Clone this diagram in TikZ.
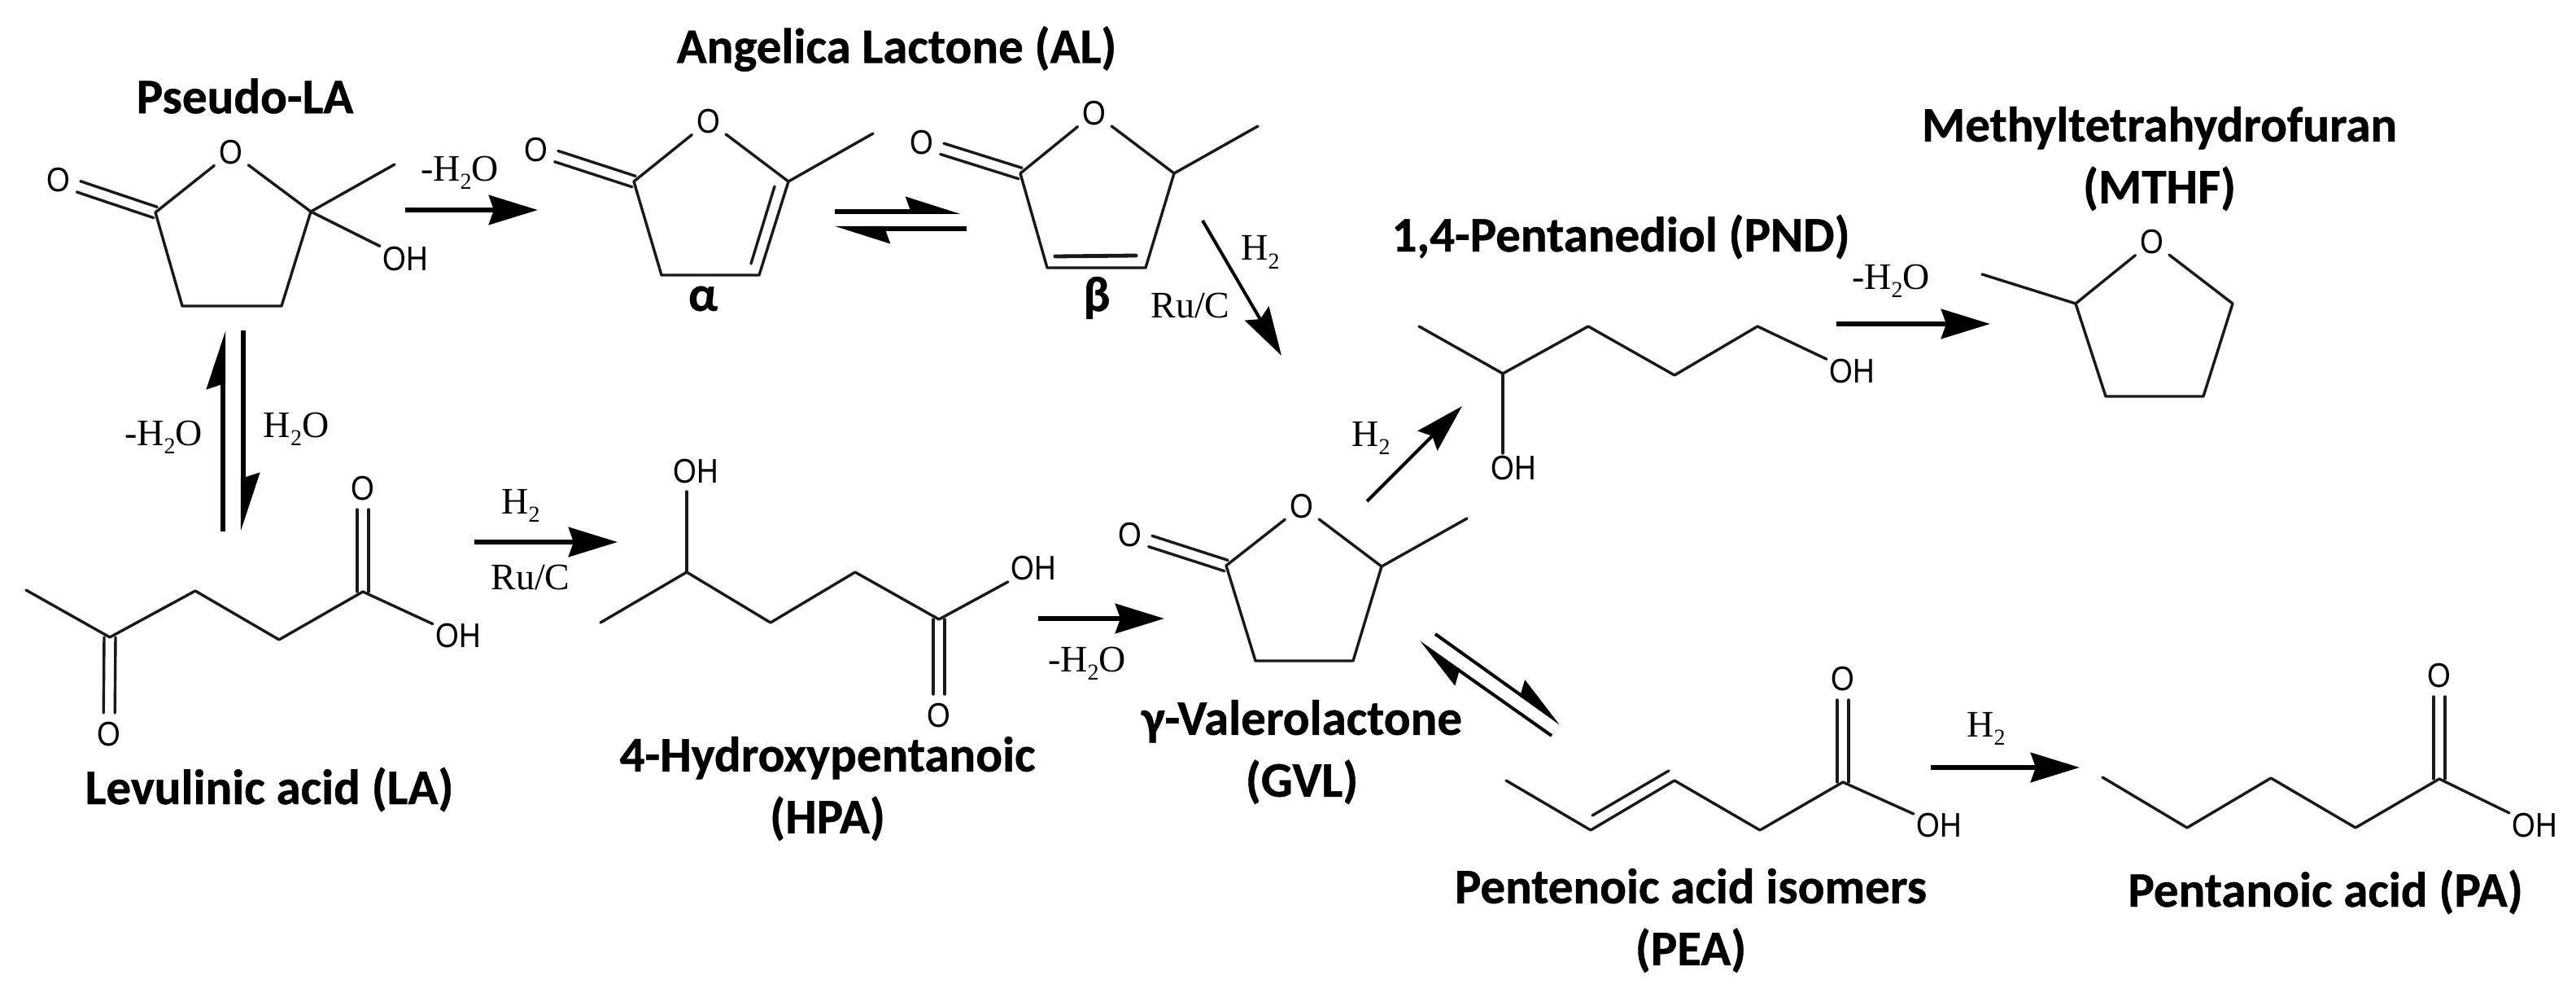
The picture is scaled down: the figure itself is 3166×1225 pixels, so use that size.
\documentclass[tikz,border=0pt]{standalone}
\usepackage{fontspec}
\setmainfont{Carlito}
\newfontfamily\namef[BoldFont={Carlito Bold},BoldFeatures={FakeBold=0.7}]{Carlito}
\newfontfamily\atomf[FakeStretch=0.88]{Liberation Sans}
\newfontfamily\regf{Liberation Serif}
\usetikzlibrary{arrows.meta,calc}
\newcommand{\subtwo}{\raisebox{-0.22em}{\fontsize{14}{14}\selectfont 2}}
\newcommand{\dbond}[2]{%
  \draw[bond] ($(#1)!3.5pt!90:(#2)$) -- ($($(#2)!13pt!(#1)$)!3.5pt!-90:(#1)$);
  \draw[bond] ($(#1)!3.5pt!-90:(#2)$) -- ($($(#2)!13pt!(#1)$)!3.5pt!90:(#1)$);}
\tikzset{
  bond/.style={line width=1.7pt,black!90,line cap=round,line join=round},
  lbl/.style={font=\namef\bfseries\fontsize{30.5}{38}\selectfont,align=center,inner sep=0pt,text=black},
  reag/.style={font=\regf\fontsize{23}{27}\selectfont,inner sep=0pt,text=black},
  atomO/.style={font=\atomf\fontsize{21}{25}\selectfont,circle,minimum size=26pt,inner sep=0pt},
  atomOH/.style={font=\atomf\fontsize{21}{25}\selectfont,rectangle,inner sep=1.5pt},
  rxn/.style={line width=3.4pt,-{Stealth[length=30pt,width=18pt,inset=3pt]}},
  rxnthin/.style={line width=2pt,-{Stealth[length=30pt,width=17pt,inset=4pt]}},
  harpV/.style={line width=3.2pt,-{Stealth[left,length=31pt,width=20pt,inset=3pt]}},
  harpH/.style={line width=3pt,-{Stealth[left,length=29pt,width=18pt,inset=3pt]}},
  harpD/.style={line width=2pt,-{Stealth[left,length=30pt,width=18pt,inset=3pt]}},
}
\begin{document}
\begin{tikzpicture}[x=0.5pt,y=-0.5pt]
\useasboundingbox[fill=white] (0,0) rectangle (3166,1225);
% ---- compound names
\node[lbl] (nPLA) at (301,118) {Pseudo-LA};
\node[lbl] (nAL) at (1102,60) {Angelica Lactone (AL)};
\node[lbl] (nA) at (864,367) {α};
\node[lbl] (nB) at (1348,366) {β};
\node[lbl] (nPND) at (1992,291) {1,4-Pentanediol (PND)};
\node[lbl] (nMTHF) at (2654,195) {Methyltetrahydrofuran\\(MTHF)};
\node[lbl] (nLA) at (331,970) {Levulinic acid (LA)};
\node[lbl] (nHPA) at (1017,969) {4-Hydroxypentanoic\\(HPA)};
\node[lbl] (nGVL) at (1600,924) {γ-Valerolactone\\(GVL)};
\node[lbl] (nPEA) at (2078,1131) {Pentenoic acid isomers\\(PEA)};
\node[lbl] (nPA) at (2858,1096) {Pentanoic acid (PA)};
% ---- Pseudo-LA
\node[atomO] (a1O) at (284,187) {O};
\node[atomO] (a1Oc) at (72,221) {O};
\node[atomOH] (a1OH) at (498,318) {OH};
\coordinate (a1c1) at (191,261);
\coordinate (a1c2) at (382,260);
\coordinate (a1c3) at (346,376);
\coordinate (a1c4) at (224,376);
\coordinate (a1me) at (485,202);
\draw[bond] (a1O) -- (a1c1) -- (a1c4) -- (a1c3) -- (a1c2) -- (a1O);
\draw[bond] (a1c2) -- (a1me);
\draw[bond] (a1c2) -- (a1OH);
\dbond{a1c1}{a1Oc}
% ---- AL alpha
\node[atomO] (a2O) at (871,149) {O};
\node[atomO] (a2Oc) at (659,184) {O};
\coordinate (a2c1) at (779,223);
\coordinate (a2c2) at (969,223);
\coordinate (a2c3) at (933,338);
\coordinate (a2c4) at (813,338);
\coordinate (a2me) at (1073,164);
\coordinate (a2d1) at (952,229);
\coordinate (a2d2) at (923,324);
\draw[bond] (a2O) -- (a2c1) -- (a2c4) -- (a2c3) -- (a2c2) -- (a2O);
\draw[bond] (a2c2) -- (a2me);
\draw[bond] (a2d1) -- (a2d2);
\dbond{a2c1}{a2Oc}
% ---- AL beta
\node[atomO] (a3O) at (1345,139) {O};
\node[atomO] (a3Oc) at (1133,175) {O};
\coordinate (a3c1) at (1254,213);
\coordinate (a3c2) at (1443,213);
\coordinate (a3c3) at (1408,329);
\coordinate (a3c4) at (1287,329);
\coordinate (a3me) at (1546,155);
\coordinate (a3d1) at (1297,315);
\coordinate (a3d2) at (1396,314);
\draw[bond] (a3O) -- (a3c1) -- (a3c4) -- (a3c3) -- (a3c2) -- (a3O);
\draw[bond] (a3c2) -- (a3me);
\draw[bond,line width=2.4pt] (a3d1) -- (a3d2);
\dbond{a3c1}{a3Oc}
% ---- PND
\node[atomOH] (a4OH1) at (1860,575) {OH};
\node[atomOH] (a4OH2) at (2276,456) {OH};
\coordinate (a4c1) at (1744,401);
\coordinate (a4c2) at (1847,459);
\coordinate (a4c3) at (1952,401);
\coordinate (a4c4) at (2058,461);
\coordinate (a4c5) at (2160,401);
\coordinate (a4b) at (1847,557);
\draw[bond] (a4c1) -- (a4c2) -- (a4c3) -- (a4c4) -- (a4c5) -- (a4OH2);
\draw[bond] (a4c2) -- (a4b);
% ---- MTHF
\node[atomO] (a5O) at (2645,297) {O};
\coordinate (a5c1) at (2551,373);
\coordinate (a5c2) at (2744,373);
\coordinate (a5c3) at (2708,487);
\coordinate (a5c4) at (2588,487);
\coordinate (a5me) at (2436,337);
\draw[bond] (a5O) -- (a5c1) -- (a5c4) -- (a5c3) -- (a5c2) -- (a5O);
\draw[bond] (a5c1) -- (a5me);
% ---- LA
\node[atomO] (a6O1) at (446,600) {O};
\node[atomO] (a6O2) at (134,902) {O};
\node[atomOH] (a6OH) at (563,781) {OH};
\coordinate (a6c1) at (32,725);
\coordinate (a6c2) at (135,783);
\coordinate (a6c3) at (240,726);
\coordinate (a6c4) at (343,786);
\coordinate (a6c5) at (446,727);
\draw[bond] (a6c1) -- (a6c2) -- (a6c3) -- (a6c4) -- (a6c5) -- (a6OH);
\dbond{a6c5}{a6O1}
\dbond{a6c2}{a6O2}
% ---- HPA
\node[atomOH] (a7OH1) at (855,579) {OH};
\node[atomOH] (a7OH2) at (1270,698) {OH};
\node[atomO] (a7O) at (1154,879) {O};
\coordinate (a7c1) at (738,765);
\coordinate (a7c2) at (844,703);
\coordinate (a7c3) at (947,765);
\coordinate (a7c4) at (1051,703);
\coordinate (a7c5) at (1154,761);
\coordinate (a7b) at (844,604);
\draw[bond] (a7c1) -- (a7c2) -- (a7c3) -- (a7c4) -- (a7c5) -- (a7OH2);
\draw[bond] (a7c2) -- (a7b);
\dbond{a7c5}{a7O}
% ---- GVL
\node[atomO] (a8O) at (1600,622) {O};
\node[atomO] (a8Oc) at (1389,657) {O};
\coordinate (a8c1) at (1507,695);
\coordinate (a8c2) at (1698,696);
\coordinate (a8c3) at (1663,812);
\coordinate (a8c4) at (1543,812);
\coordinate (a8me) at (1803,637);
\draw[bond] (a8O) -- (a8c1) -- (a8c4) -- (a8c3) -- (a8c2) -- (a8O);
\draw[bond] (a8c2) -- (a8me);
\dbond{a8c1}{a8Oc}
% ---- PEA
\node[atomO] (a9O) at (2265,834) {O};
\node[atomOH] (a9OH) at (2383,1014) {OH};
\coordinate (a9c1) at (1851,959);
\coordinate (a9c2) at (1955,1020);
\coordinate (a9c3) at (2058,959);
\coordinate (a9c4) at (2163,1020);
\coordinate (a9c5) at (2265,961);
\coordinate (a9d1) at (1957,1002);
\coordinate (a9d2) at (2051,947);
\draw[bond] (a9c1) -- (a9c2) -- (a9c3) -- (a9c4) -- (a9c5) -- (a9OH);
\draw[bond] (a9d1) -- (a9d2);
\dbond{a9c5}{a9O}
% ---- PA
\node[atomO] (a10O) at (2998,830) {O};
\node[atomOH] (a10OH) at (3115,1014) {OH};
\coordinate (a10c1) at (2584,955);
\coordinate (a10c2) at (2688,1017);
\coordinate (a10c3) at (2791,956);
\coordinate (a10c4) at (2895,1017);
\coordinate (a10c5) at (2998,957);
\draw[bond] (a10c1) -- (a10c2) -- (a10c3) -- (a10c4) -- (a10c5) -- (a10OH);
\dbond{a10c5}{a10O}
% ---- reagents
\node[reag] (r1) at (565,212) {-H\subtwo O};
\node[reag] (r2) at (201,537) {-H\subtwo O};
\node[reag] (r3) at (364,527) {H\subtwo O};
\node[reag] (r4) at (640,621) {H\subtwo};
\node[reag] (r5) at (652,709) {Ru/C};
\node[reag] (r6) at (1336,815) {-H\subtwo O};
\node[reag] (r7) at (1549,310) {H\subtwo};
\node[reag] (r8) at (1463,375) {Ru/C};
\node[reag] (r9) at (1685,538) {H\subtwo};
\node[reag] (r10) at (2324,345) {-H\subtwo O};
\node[reag] (r11) at (2441,895) {H\subtwo};
% ---- arrows
\coordinate (p1s) at (498,258);   \coordinate (p1e) at (661,258);
\coordinate (p2s) at (274,653);   \coordinate (p2e) at (274,406);
\coordinate (p3s) at (299,406);   \coordinate (p3e) at (299,653);
\coordinate (p4s) at (1026,260);  \coordinate (p4e) at (1181,260);
\coordinate (p5s) at (1188,281);  \coordinate (p5e) at (1026,281);
\coordinate (p6s) at (1478,271);  \coordinate (p6e) at (1575,437);
\coordinate (p7s) at (583,666);   \coordinate (p7e) at (759,666);
\coordinate (p8s) at (1276,760);  \coordinate (p8e) at (1431,760);
\coordinate (p9s) at (1680,616);  \coordinate (p9e) at (1797,499);
\coordinate (p10s) at (2257,398); \coordinate (p10e) at (2446,398);
\coordinate (p11s) at (1764,779); \coordinate (p11e) at (1918,889);
\coordinate (p12s) at (1907,904); \coordinate (p12e) at (1744,789);
\coordinate (p13s) at (2373,943); \coordinate (p13e) at (2556,943);
\draw[rxn] (p1s) -- (p1e);
\draw[harpV] (p2s) -- (p2e);
\draw[harpV] (p3s) -- (p3e);
\draw[harpH] (p4s) -- (p4e);
\draw[harpH] (p5s) -- (p5e);
\draw[rxnthin] (p6s) -- (p6e);
\draw[rxn] (p7s) -- (p7e);
\draw[rxn] (p8s) -- (p8e);
\draw[rxnthin] (p9s) -- (p9e);
\draw[rxn] (p10s) -- (p10e);
\draw[harpD] (p11s) -- (p11e);
\draw[harpD] (p12s) -- (p12e);
\draw[rxn] (p13s) -- (p13e);
\end{tikzpicture}
\end{document}
